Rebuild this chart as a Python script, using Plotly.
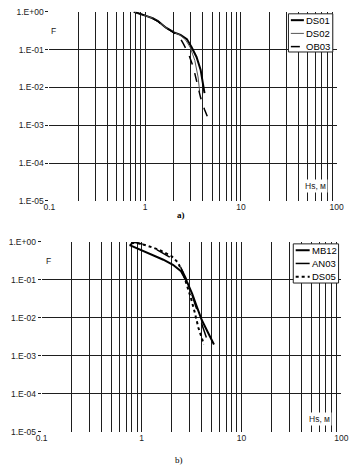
import plotly.graph_objects as go

# ---- data ----
ds01_x = [0.76, 0.88, 1.04, 1.20, 1.36, 1.65, 2.00, 2.34, 2.73, 3.06, 3.44, 3.80, 4.00, 4.17]
ds01_y = [1.0, 0.90, 0.77, 0.68, 0.57, 0.38, 0.285, 0.247, 0.19, 0.116, 0.064, 0.029, 0.0129, 0.0071]

ds02_x = [0.78, 0.90, 1.04, 1.20, 1.36, 1.65, 2.00, 2.34, 2.65, 2.95, 3.30, 3.57, 3.71]
ds02_y = [0.98, 0.88, 0.77, 0.68, 0.57, 0.38, 0.285, 0.24, 0.18, 0.116, 0.052, 0.019, 0.0078]

ob03_x = [0.80, 0.92, 1.04, 1.20, 1.36, 1.65, 2.00, 2.25, 2.52, 2.84, 3.18, 3.52, 3.80, 4.17, 4.67]
ob03_y = [0.97, 0.87, 0.78, 0.66, 0.56, 0.38, 0.28, 0.23, 0.14, 0.078, 0.035, 0.0129, 0.0053, 0.0026, 0.00129]

mb12_x = [0.76, 0.985, 1.32, 1.65, 2.06, 2.48, 2.87, 3.21, 3.59, 4.00, 4.64, 5.30]
mb12_y = [0.82, 0.61, 0.45, 0.34, 0.25, 0.17, 0.085, 0.043, 0.019, 0.0088, 0.0040, 0.0020]

an03_x = [0.76, 0.82, 1.06, 1.43, 1.91, 2.39, 2.77, 3.10, 3.46, 3.86, 4.38, 4.64]
an03_y = [0.80, 1.0, 0.85, 0.62, 0.40, 0.25, 0.114, 0.052, 0.021, 0.0088, 0.0033, 0.0022]

ds05_x = [0.79, 0.86, 1.10, 1.50, 2.00, 2.30, 2.60, 2.85, 3.10, 3.40, 3.70, 4.20]
ds05_y = [0.90, 0.97, 0.82, 0.62, 0.42, 0.29, 0.15, 0.07, 0.035, 0.014, 0.0055, 0.0020]

top_names = ["DS01", "DS02", "OB03"]
bot_names = ["MB12", "AN03", "DS05"]

x_grid_vals = [m * 10 ** e for e in (-1, 0, 1) for m in range(1, 10)] + [100]
x_tick_text = ["0.1" if v == 0.1 else "1" if v == 1 else "10" if v == 10 else "100" if v == 100 else ""
               for v in x_grid_vals]
y_tick_vals = [1e-5, 1e-4, 1e-3, 1e-2, 1e-1, 1]
y_tick_text = ["1.E-05", "1.E-04", "1.E-03", "1.E-02", "1.E-01", "1.E+00"]

FONT = "Liberation Sans"
GRID = "#1e1e1e"
W, H = 361, 476

top_styles = [("black", 2, "solid"), ("#555555", 1, "solid"), ("black", 1.5, "dash")]
bot_styles = [("black", 2, "solid"), ("black", 1.5, "longdash"), ("black", 2, "dot")]

fig = go.Figure()

for (x, y), name, (c, w, d) in zip([(ds01_x, ds01_y), (ds02_x, ds02_y), (ob03_x, ob03_y)], top_names, top_styles):
    fig.add_trace(go.Scatter(x=x, y=y, name=name, mode="lines", xaxis="x", yaxis="y",
                             showlegend=False, line=dict(color=c, width=w, dash=d)))
for (x, y), name, (c, w, d) in zip([(mb12_x, mb12_y), (an03_x, an03_y), (ds05_x, ds05_y)], bot_names, bot_styles):
    fig.add_trace(go.Scatter(x=x, y=y, name=name, mode="lines", xaxis="x2", yaxis="y2",
                             showlegend=False, line=dict(color=c, width=w, dash=d)))

xax = dict(type="log", range=[-1, 2], tickmode="array", tickvals=x_grid_vals, ticktext=x_tick_text,
           showgrid=True, gridcolor=GRID, gridwidth=1, zeroline=False, showline=False,
           ticks="", ticklen=0, tickfont=dict(family=FONT, size=8.5, color="#222"))
yax = dict(type="log", range=[-5, 0], tickmode="array", tickvals=y_tick_vals, ticktext=y_tick_text,
           showgrid=True, gridcolor=GRID, gridwidth=1, zeroline=False, showline=False,
           ticks="outside", ticklen=3, tickcolor=GRID,
           tickfont=dict(family=FONT, size=8.5, color="#222"))

fig.update_layout(
    width=W, height=H,
    margin=dict(l=0, r=0, t=0, b=0),
    paper_bgcolor="white", plot_bgcolor="white",
    xaxis=dict(xax, domain=[45 / W, 343 / W], anchor="y"),
    yaxis=dict(yax, domain=[1 - 200 / H, 1 - 7 / H], anchor="x"),
    xaxis2=dict(xax, domain=[37 / W, 348 / W], anchor="y2"),
    yaxis2=dict(yax, domain=[1 - 436 / H, 1 - 242 / H], anchor="x2"),
    showlegend=False,
)

# ---- hand-drawn legends (box, line samples, names) in pixel-derived paper coords ----
def px(x):
    return x / W

def py(y):
    return 1 - y / H

def legend_box(x0, y0, x1, y1, rows_y, samp_x0, samp_x1, text_x, names, styles):
    fig.add_shape(type="rect", xref="paper", yref="paper", x0=px(x0), x1=px(x1), y0=py(y0), y1=py(y1),
                  line=dict(color="#222", width=1), fillcolor="white", layer="above")
    for ry, name, (c, w, d) in zip(rows_y, names, styles):
        fig.add_shape(type="line", xref="paper", yref="paper", x0=px(samp_x0), x1=px(samp_x1),
                      y0=py(ry), y1=py(ry), line=dict(color=c, width=w, dash=d), layer="above")
        fig.add_annotation(xref="paper", yref="paper", x=px(text_x), y=py(ry), text=name,
                           showarrow=False, xanchor="left", yanchor="middle",
                           font=dict(family=FONT, size=9.5, color="black"))

legend_box(293, 9, 339, 48, [15.5, 29, 42.5], 295.5, 309, 309.5, top_names, top_styles)
legend_box(298, 244, 345, 284, [250.5, 264, 277.5], 300.5, 315, 315, bot_names, bot_styles)

ann_font = dict(family=FONT, size=8.5, color="#222")
anns = [
    dict(text="F", x=px(49), y=py(27), font=ann_font),
    dict(text="Hs, м", x=px(321), y=py(185), font=ann_font),
    dict(text="F", x=px(44), y=py(262), font=ann_font),
    dict(text="Hs, м", x=px(325), y=py(423), font=ann_font),
    dict(text="<b>a)</b>", x=px(182), y=py(215), font=dict(family="Liberation Serif", size=9, color="black")),
    dict(text="b)", x=px(179), y=py(465), font=dict(family="Liberation Serif", size=9, color="black")),
]
for a in anns:
    fig.add_annotation(xref="paper", yref="paper", showarrow=False, xanchor="center", yanchor="middle",
                       bgcolor="white", **a)

fig.write_html("out.html", config={"displayModeBar": False},
               post_script="document.body.style.margin='0';")
